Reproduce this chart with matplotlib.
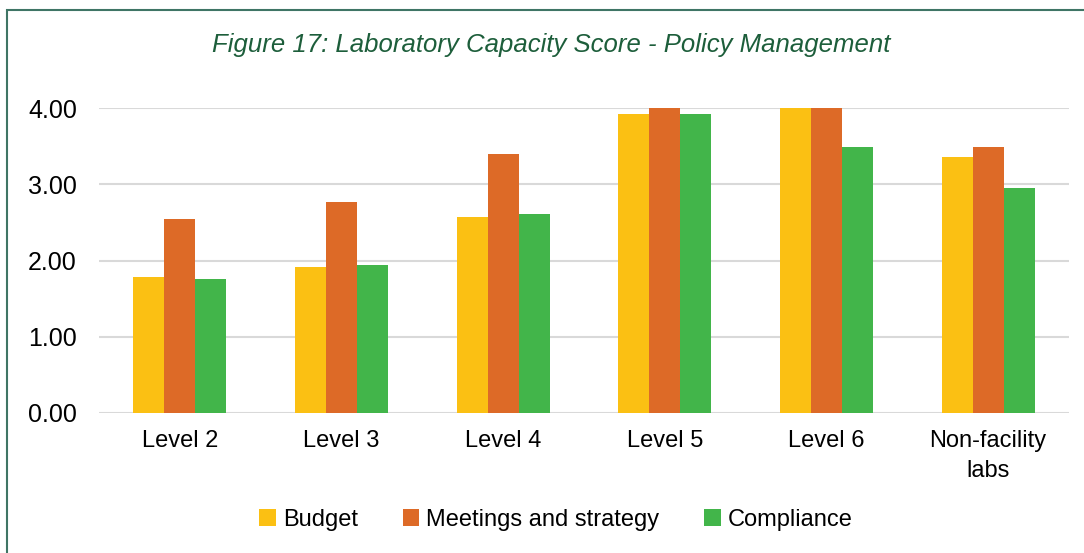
import matplotlib.pyplot as plt
import numpy as np
from matplotlib.patches import Rectangle

categories = ['Level 2', 'Level 3', 'Level 4', 'Level 5', 'Level 6', 'Non-facility\nlabs']
budget = [1.79, 1.92, 2.57, 3.92, 4.00, 3.36]
meetings = [2.55, 2.77, 3.40, 4.00, 4.00, 3.49]
compliance = [1.76, 1.94, 2.61, 3.92, 3.49, 2.95]
yticks = [0, 1, 2, 3, 4]

narrow = ['Liberation Sans Narrow', 'Liberation Sans', 'DejaVu Sans']

fig = plt.figure(figsize=(10.84, 5.53), dpi=100)
ax = fig.add_axes([99 / 1084, 1 - 413 / 553, 970 / 1084, 305 / 553])

x = np.arange(len(categories))
w = 0.192
ax.bar(x - w, budget, w, color='#fbc013', label='Budget', zorder=3)
ax.bar(x, meetings, w, color='#dd6a27', label='Meetings and strategy', zorder=3)
ax.bar(x + w, compliance, w, color='#42b54a', label='Compliance', zorder=3)

ax.set_xlim(-0.5, len(categories) - 0.5)
ax.set_ylim(0, 4)
ax.set_yticks(yticks)
ax.set_yticklabels(['%.2f' % v for v in yticks], fontsize=18, family=['Liberation Sans', 'DejaVu Sans'])
ax.set_xticks(x)
ax.set_xticklabels(categories, fontsize=17, family=narrow, linespacing=1.5)
ax.grid(axis='y', color='#d9d9d9', linewidth=1.5, zorder=0)
for s in ax.spines.values():
    s.set_visible(False)
ax.tick_params(length=0)
ax.tick_params(axis='y', pad=16)
ax.tick_params(axis='x', pad=12)

fig.text(551 / 1084, 1 - 45 / 553, 'Figure 17: Laboratory Capacity Score - Policy Management',
         ha='center', va='center', fontsize=18.5, style='italic', color='#1d5e3b', family=narrow)

ax.legend(loc='center', bbox_to_anchor=(556 / 1084, 1 - 520 / 553), bbox_transform=fig.transFigure,
          ncol=3, frameon=False, prop={'family': narrow, 'size': 17},
          handlelength=0.7, handleheight=0.7, handletextpad=0.3, columnspacing=1.9)

# frame round the chart
fig.patches.append(Rectangle((7 / 1084, -0.05), 1.1, 1 - 10 / 553 + 0.05, transform=fig.transFigure,
                             fill=False, edgecolor='#3f7565', linewidth=1.5))

plt.savefig('out.png', dpi=100)
plt.close()
